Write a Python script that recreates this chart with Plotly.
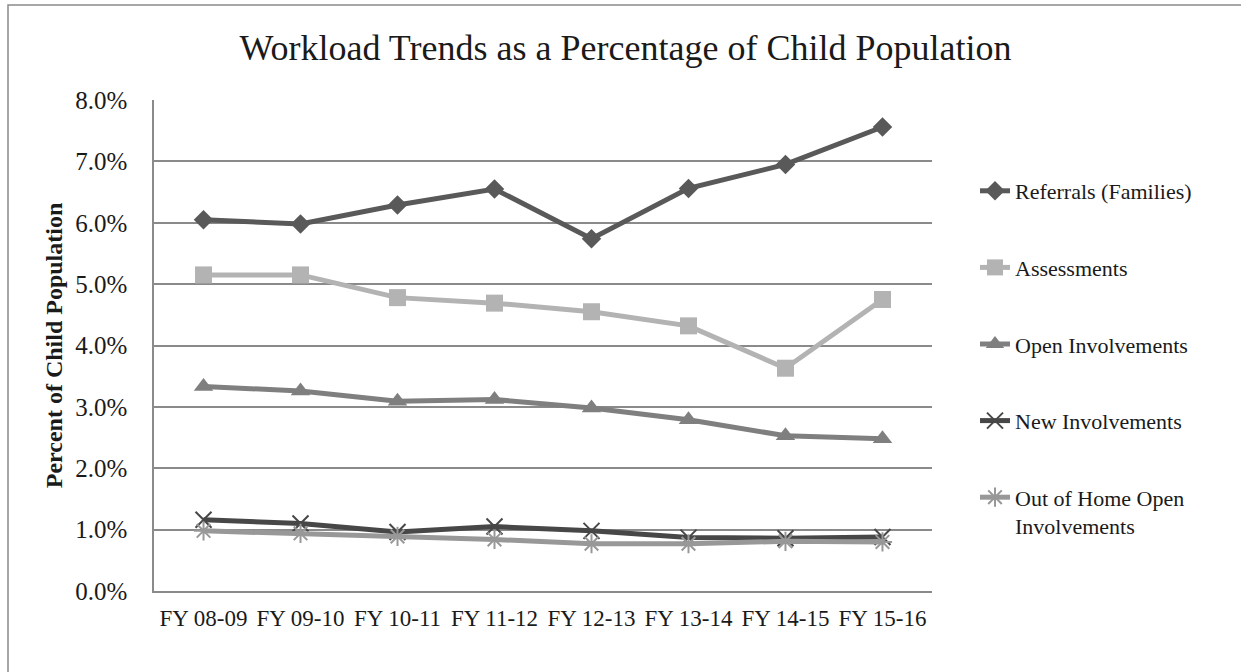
import plotly.graph_objects as go

# Fiscal years on the category axis
years = ["FY 08-09", "FY 09-10", "FY 10-11", "FY 11-12",
         "FY 12-13", "FY 13-14", "FY 14-15", "FY 15-16"]

# Workload as a percentage of the child population
referrals = [6.05, 5.98, 6.29, 6.55, 5.74, 6.56, 6.95, 7.56]
assessments = [5.15, 5.15, 4.78, 4.69, 4.55, 4.32, 3.63, 4.75]
open_involvements = [3.33, 3.26, 3.09, 3.12, 2.98, 2.79, 2.53, 2.48]
new_involvements = [1.16, 1.10, 0.96, 1.05, 0.98, 0.87, 0.86, 0.88]
out_of_home = [0.98, 0.94, 0.89, 0.84, 0.77, 0.77, 0.81, 0.80]

y_ticks = [0, 1, 2, 3, 4, 5, 6, 7, 8]
y_tick_text = ["0.0%", "1.0%", "2.0%", "3.0%", "4.0%", "5.0%", "6.0%", "7.0%", "8.0%"]

FONT = "Liberation Serif, Times New Roman, serif"

series = [
    ("Referrals (Families)", referrals, "#595959",
     dict(symbol="diamond", size=15, color="#595959")),
    ("Assessments", assessments, "#b3b3b3",
     dict(symbol="square", size=17, color="#b3b3b3")),
    ("Open Involvements", open_involvements, "#7f7f7f",
     dict(symbol="triangle-up", size=17, color="#7f7f7f")),
    ("New Involvements", new_involvements, "#474747",
     dict(symbol="x-thin-open", size=16, color="#474747",
          line=dict(color="#474747", width=2))),
    ("Out of Home Open<br>Involvements", out_of_home, "#989898",
     dict(symbol="asterisk-open", size=16, color="#989898",
          line=dict(color="#989898", width=2))),
]

fig = go.Figure()
for i, (name, vals, color, marker) in enumerate(series):
    fig.add_trace(go.Scatter(
        x=years, y=vals, name=name, mode="lines+markers",
        line=dict(color=color, width=5),
        marker=marker,
        legendgroup=f"g{i}",
    ))

# Plot area in pixels: x 154..932, y 100..591
L, R, T, B = 154, 932, 100, 591
W, H = 1241, 672


def px_x(p):
    return (p - L) / (R - L)


def px_y(p):
    return (B - p) / (B - T)


fig.update_layout(
    width=W, height=H,
    margin=dict(l=L, r=W - R, t=T, b=H - B),
    paper_bgcolor="white", plot_bgcolor="white",
    font=dict(family=FONT, color="#1a1a1a", size=23),
    title=dict(
        text="Workload Trends as a Percentage of Child Population",
        font=dict(family=FONT, size=36, color="#1a1a1a"),
        x=0.504, xanchor="center", y=1 - 47 / H, yanchor="middle",
    ),
    xaxis=dict(
        type="category", showgrid=False, showline=True,
        linecolor="#8a8a8a", linewidth=1.5, ticks="",
        ticklabelstandoff=6,
        tickfont=dict(family=FONT, size=23, color="#1a1a1a"),
        fixedrange=True,
    ),
    yaxis=dict(
        range=[0, 8], tickvals=y_ticks, ticktext=y_tick_text,
        showgrid=True, gridcolor="#8a8a8a", gridwidth=1.5,
        showline=True, linecolor="#8a8a8a", linewidth=1.5,
        zeroline=False, ticks="", ticklabelstandoff=20,
        tickfont=dict(family=FONT, size=25, color="#1a1a1a"),
        title=dict(text="<b>Percent of Child Population</b>",
                   font=dict(family=FONT, size=24, color="#1a1a1a"),
                   standoff=6),
    ),
    legend=dict(
        x=px_x(975), xanchor="left", y=px_y(170), yanchor="top",
        font=dict(family=FONT, size=22, color="#1a1a1a"),
        tracegroupgap=45, valign="top",
        bgcolor="rgba(0,0,0,0)",
    ),
    shapes=[dict(
        type="rect", xref="paper", yref="paper",
        x0=px_x(8), x1=px_x(1250), y0=px_y(690), y1=px_y(5),
        line=dict(color="#8a8a8a", width=1.5), fillcolor="rgba(0,0,0,0)",
        layer="below",
    )],
)

fig.write_html("out.html")
